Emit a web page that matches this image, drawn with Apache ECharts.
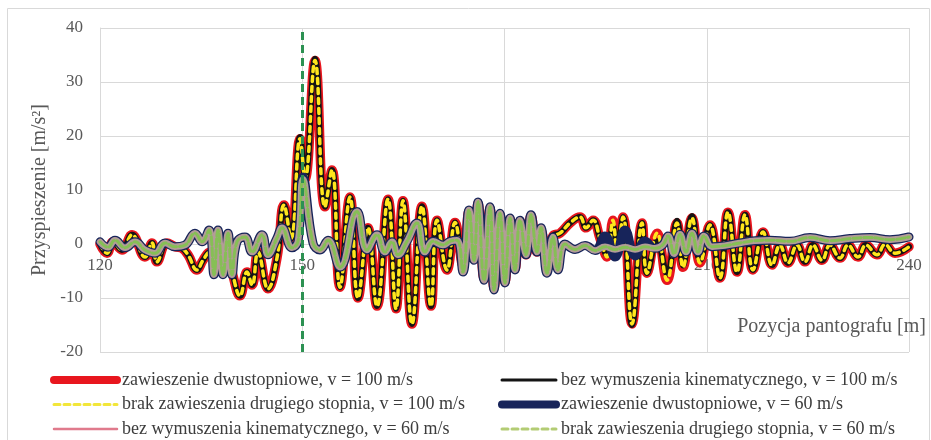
<!DOCTYPE html>
<html>
<head>
<meta charset="utf-8">
<script src="https://cdn.jsdelivr.net/npm/echarts@6/dist/echarts.min.js"></script>
<style>
    html, body { margin: 0; padding: 0; background: #fff; }
    #chart { width: 931px; height: 440px; }
</style>
</head>
<body>
<div id="chart"></div>
<script>
// Pozycja pantografu [m] i przyspieszenie [m/s2]
const pos100 = [
    120.0, 121.04, 121.93, 123.26, 124.75, 126.67, 127.71, 128.45, 129.94, 131.12,
    132.16, 133.05, 134.39, 135.28, 136.32, 137.21, 138.1, 138.99, 139.58, 140.77,
    141.8, 142.55, 143.44, 144.92, 146.25, 147.29, 148.33, 149.67, 150.41, 151.89,
    153.37, 154.41, 155.6, 157.08, 158.27, 159.75, 161.09, 162.72, 163.91, 164.94,
    166.28, 167.76, 169.1, 169.99, 171.47, 172.66, 173.84, 174.73, 175.48, 176.07,
    176.96, 177.85, 178.44, 179.33, 180.07, 180.82, 181.56, 182.3, 183.19, 183.93,
    184.82, 185.41, 186.3, 187.19, 188.23, 189.72, 191.2, 192.09, 193.13, 194.17,
    195.2, 196.09, 196.69, 197.58, 198.91, 200.4, 201.14, 202.62, 204.11, 205.59,
    206.48, 207.81, 209.0, 210.48, 211.96, 213.15, 214.49, 215.67, 216.86, 218.34,
    219.68, 220.86, 222.05, 223.39, 224.57, 225.76, 227.09, 228.28, 229.76, 230.95,
    232.43, 233.62, 235.25, 236.44, 237.92, 240.0
];
const acc100 = [
    0, -1.7, 0.4, -1.1, 1.7, -2.4, 0.2, -3.3, 0.2, -0.5,
    -0.8, -2, -4.8, -3, -1.5, -3, -0.5, -2.5, -5.2, -9.6,
    -5.2, -7.6, -1.5, -8.3, -2.6, 7.2, 1, 19.5, 12, 34,
    6.9, 13.7, -8, 8.7, -10, 3, -11.5, 8.3, -12, 8,
    -14.8, 7, -11.5, 4.4, -4.8, 4, -4, 6, -2.8, 7.5,
    -6.4, 6.6, -8.2, 5.4, -7, 4.6, -4.6, 4.2, -2, 5.2,
    -1.5, 2.5, -3, 1.5, 2, 3.9, 5, 3, 4.4, 1,
    -2.4, 4.4, -1, 5, -14.8, 3.9, -5.4, 2, -6.7, 3.9,
    -4.3, 4.8, -3.5, 3.5, -6.3, 5.9, -5.2, 5.4, -4.8, 2.2,
    -3.9, -0.2, -3.5, -0.2, -3.3, -0.2, -3, -0.2, -2.6, -0.2,
    -2.4, -0.2, -2, -0.1, -1.7, -0.5
];
const accNoKin100 = [
    0, -1.7, 0.4, -1.1, 1.7, -2.4, 0.2, -3.3, 0.2, -0.5,
    -0.8, -2, -4.8, -3, -1.5, -3, -0.5, -2.5, -5.2, -9.6,
    -5.2, -7.6, -1.5, -8.3, -2.6, 7.2, 1, 19.8, 12, 34.3,
    6.9, 13.7, -8, 8.7, -10, 3, -11.5, 8.3, -12, 8,
    -14.8, 7, -11.5, 4.4, -4.8, 4, -4, 6, -2.8, 7.5,
    -6.4, 6.6, -8.2, 5.4, -7, 4.6, -4.6, 4.2, -2, 5.2,
    -1.5, 2.5, -3, 1.5, 2, 3.9, 5, 3, 4.4, 1,
    -2, 3.4, -1, 5, -15, 3.9, -5.4, 0.5, -5.5, 4.3,
    -4, 5.2, -3, 3.5, -6.3, 5.9, -5.2, 5.4, -4.8, 2.2,
    -3.9, -0.2, -3.5, -0.2, -3.3, -0.2, -3, -0.2, -2.6, -0.2,
    -2.4, -0.2, -2, -0.1, -1.7, -0.5
];

const pos60 = [
    120.0, 121.19, 122.22, 123.71, 125.19, 126.67, 128.16, 129.64, 131.12, 132.61,
    134.09, 135.13, 136.17, 136.91, 137.5, 138.24, 138.99, 139.58, 140.32, 141.51,
    142.55, 144.03, 144.92, 146.25, 146.99, 148.48, 149.37, 150.11, 151.59, 152.63,
    153.82, 155.6, 158.12, 159.6, 161.09, 162.27, 163.31, 164.2, 165.54, 167.02,
    168.21, 169.4, 170.88, 171.92, 172.96, 173.84, 174.73, 175.48, 176.07, 176.96,
    177.85, 178.44, 179.33, 180.07, 180.82, 181.56, 182.3, 183.19, 183.93, 184.82,
    185.41, 186.3, 187.19, 187.93, 188.97, 190.46, 191.95, 193.43, 194.91, 196.4,
    197.88, 199.37, 200.85, 202.33, 203.52, 204.26, 205.15, 206.04, 206.93, 207.81,
    208.7, 209.59, 210.77, 212.7, 214.93, 217.16, 219.38, 222.35, 225.32, 228.28,
    231.25, 234.21, 237.18, 240.0
];
const acc60 = [
    0.4, -0.6, 0.7, -0.7, 0.4, -1.1, -1.7, 0.2, -0.5, -0.2,
    2, 0.4, 2.6, -5.7, 2.6, -5.7, 2, -5.7, 0.4, 1.3,
    -1.5, 1.7, -2, 1.1, 3, -0.7, 0.5, 12, 0.2, -1.1,
    0.7, -4.3, 6, -1.1, 1.7, -1.5, 0.4, -2, 0.5, 3.9,
    -1.5, 0.5, -0.2, 0.5, 0.7, -5.2, 6.3, -3, 7.8, -6.7,
    6.9, -8.5, 5.7, -7.2, 4.8, -4.8, 4.4, -2, 5.4, -1.5,
    3, -5.4, 1.3, -4.8, 0, -1, -0.3, -1.2, -0.5, -1,
    -0.6, -1, -0.5, -0.8, -0.1, 1.5, -1.8, 1.8, -1.5, 2,
    -1.5, 1.5, -0.5, -0.3, 0.2, 0.6, 0.7, 0.5, 1.2, 0.6,
    1, 1.2, 0.8, 1.3
];
const accTwoStage60 = [
    0.4, -0.6, 0.7, -0.7, 0.4, -1.1, -1.7, 0.2, -0.5, -0.2,
    2, 0.4, 2.6, -5.7, 2.6, -5.7, 2, -5.7, 0.4, 1.3,
    -1.5, 1.7, -2, 1.1, 3, -0.7, 0.5, 12.4, 0.2, -1.1,
    0.7, -4.3, 6, -1.1, 1.7, -1.5, 0.4, -2, 0.5, 3.9,
    -1.5, 0.5, -0.2, 0.5, 0.7, -5.2, 6.3, -3, 7.8, -6.7,
    6.9, -8.5, 5.7, -7.2, 4.8, -4.8, 4.4, -2, 5.4, -1.5,
    3, -5.4, 1.3, -4.8, 0, -1, -0.3, -1.2, 1.5, -2.4,
    2.6, -2.2, 0.5, -0.8, -0.1, 1.5, -1.8, 1.8, -1.5, 2,
    -1.5, 1.5, -0.5, -0.3, 0.2, 0.6, 0.7, 0.5, 1.2, 0.6,
    1, 1.2, 0.8, 1.3
];

const seriesNames = [
    "zawieszenie dwustopniowe, v = 100 m/s",
    "bez wymuszenia kinematycznego, v = 100 m/s",
    "brak zawieszenia drugiego stopnia, v = 100 m/s",
    "zawieszenie dwustopniowe, v = 60 m/s",
    "bez wymuszenia kinematycznego, v = 60 m/s",
    "brak zawieszenia drugiego stopnia, v = 60 m/s",
];
const yTicks = [-20, -10, 0, 10, 20, 30, 40];
const xTicks = [120, 150, 180, 210, 240];
const markerPosition = 150;

const zip = (xs, ys) => xs.map((x, i) => [x, ys[i]]);

const fontFamily = "Liberation Serif";
const axisGray = "#d9d9d9";
const labelGray = "#595959";

const makeLine = (name, data, color, width, type) => ({
    name,
    type: "line",
    data,
    smooth: 0.45,
    symbol: "none",
    showSymbol: false,
    lineStyle: { color, width, type: type || "solid", cap: "round", join: "round" },
    itemStyle: { color },
    emphasis: { disabled: true },
});

const series = [
    makeLine(seriesNames[0], zip(pos100, acc100), "#e8161e", 9.5),
    makeLine(seriesNames[1], zip(pos100, accNoKin100), "#141414", 6),
    makeLine(seriesNames[2], zip(pos100, acc100), "#ffe61c", 3.5, [5, 5]),
    makeLine(seriesNames[3], zip(pos60, accTwoStage60), "#17245a", 9),
    makeLine(seriesNames[4], zip(pos60, acc60), "#b39c98", 6.5),
    makeLine(seriesNames[5], zip(pos60, acc60), "#86bf55", 3, [8, 3]),
];
series[5].markLine = {
    silent: true,
    symbol: "none",
    label: { show: false },
    lineStyle: { color: "#2c9152", width: 3, type: [8, 5] },
    data: [{ xAxis: markerPosition }],
};

const legendText = { fontFamily, fontSize: 18, lineHeight: 17, color: "#3c3c3c" };
const legendItem = (i, width, color, type) => ({
    name: seriesNames[i],
    itemStyle: { opacity: 0 },
    lineStyle: { width, color, type: type || "solid", cap: "round" },
});

const option = {
    animation: false,
    textStyle: { fontFamily },
    title: {
        text: "Pozycja pantografu [m]",
        right: 5,
        top: 317,
        padding: 0,
        textStyle: { fontFamily, fontSize: 20, fontWeight: "normal", color: labelGray },
    },
    graphic: [
        {
            type: "rect",
            shape: { x: 7.5, y: 8.5, width: 922, height: 440 },
            style: { fill: null, stroke: "#d9d9d9", lineWidth: 1 },
            silent: true,
        },
    ],
    legend: [
        {
            orient: "vertical",
            left: 50,
            top: 371,
            padding: 0,
            itemWidth: 63,
            itemHeight: 8,
            itemGap: 6.5,
            textStyle: legendText,
            data: [
                legendItem(0, 8, "#e8161e"),
                legendItem(2, 3, "#f2e63a", [6, 4]),
                legendItem(4, 2.5, "#e07a8c"),
            ],
        },
        {
            orient: "vertical",
            left: 498,
            top: 371,
            padding: 0,
            itemWidth: 54,
            itemHeight: 8,
            itemGap: 6.5,
            textStyle: legendText,
            data: [
                legendItem(1, 3, "#141414"),
                legendItem(3, 8, "#17245a"),
                legendItem(5, 3, "#b3cc74", [6, 4]),
            ],
        },
    ],
    grid: { left: 100, right: 22, top: 28, bottom: 88 },
    xAxis: {
        type: "value",
        min: xTicks[0],
        max: xTicks[xTicks.length - 1],
        interval: xTicks[1] - xTicks[0],
        offset: -108,
        axisLine: { show: false, onZero: false },
        axisTick: { show: false },
        axisLabel: { color: labelGray, fontSize: 17, fontFamily, margin: 13 },
        splitLine: { show: true, lineStyle: { color: axisGray, width: 1 } },
    },
    yAxis: {
        type: "value",
        min: yTicks[0],
        max: yTicks[yTicks.length - 1],
        interval: yTicks[1] - yTicks[0],
        name: "Przyspieszenie [m/s²]",
        nameLocation: "middle",
        nameGap: 42,
        nameTextStyle: { fontFamily, fontSize: 20, color: labelGray },
        axisLine: { show: true, lineStyle: { color: axisGray } },
        axisTick: { show: false },
        axisLabel: { color: labelGray, fontSize: 17, fontFamily, margin: 17 },
        splitLine: { show: true, lineStyle: { color: axisGray, width: 1 } },
    },
    series,
};

const chart = echarts.init(document.getElementById("chart"), null, { renderer: "canvas" });
chart.setOption(option);
</script>
</body>
</html>
